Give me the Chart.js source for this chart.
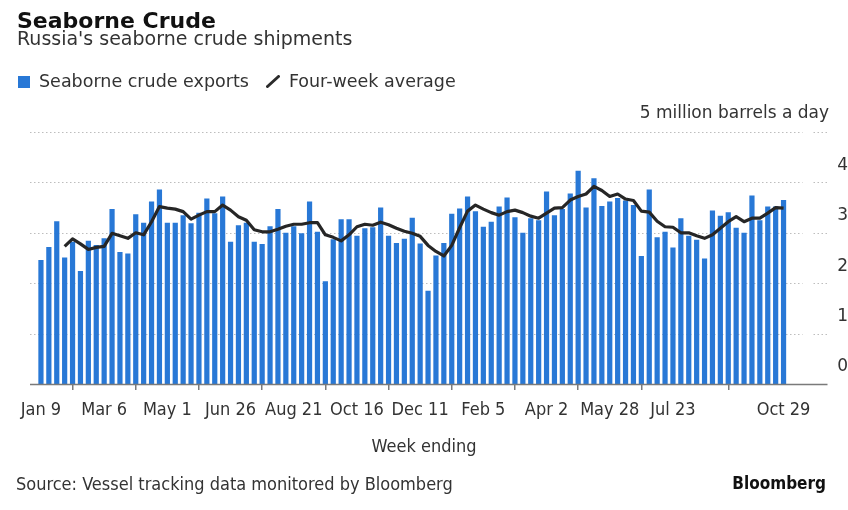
<!DOCTYPE html>
<html>
<head>
<meta charset="utf-8">
<script src="https://cdn.jsdelivr.net/npm/chart.js@4.4.0/dist/chart.umd.min.js"></script>
<style>
  html, body { margin: 0; padding: 0; background: #fff; }
  #wrap { position: relative; width: 848px; height: 510px; overflow: hidden; font-family: "DejaVu Sans", sans-serif; color: #333; }
  #chart { position: absolute; left: 0; top: 0; }
  .t { position: absolute; line-height: 1; white-space: nowrap; }
  #title { left: 17px; top: 10px; font-size: 22px; font-weight: bold; color: #111; }
  #subtitle { left: 17px; top: 29px; font-size: 19px; }
  #legend { left: 18px; top: 73px; font-size: 17.5px; }
  #legend .sw { display: inline-block; width: 12px; height: 12px; background: #2878d6; margin-right: 9px; vertical-align: -1px; }
  #legend svg { vertical-align: -1px; margin: 0 9px 0 17px; }
  #unit { right: 19px; top: 104px; font-size: 17px; }
  #xtitle { left: 0; width: 848px; text-align: center; top: 437px; font-size: 18px; font-family: "DejaVu Sans Condensed", "DejaVu Sans", sans-serif; font-stretch: condensed; }
  #source { left: 16px; top: 475px; font-size: 18px; font-family: "DejaVu Sans Condensed", "DejaVu Sans", sans-serif; font-stretch: condensed; }
  #brand { right: 22px; top: 475px; font-size: 17px; font-weight: bold; color: #111; font-family: "DejaVu Sans Condensed", "DejaVu Sans", sans-serif; font-stretch: condensed; }
</style>
</head>
<body>
<div id="wrap">
  <canvas id="chart" width="848" height="510"></canvas>
  <div class="t" id="title">Seaborne Crude</div>
  <div class="t" id="subtitle">Russia's seaborne crude shipments</div>
  <div class="t" id="legend"><span class="sw"></span>Seaborne crude exports<svg width="14" height="13" viewBox="0 0 14 13"><line x1="1.5" y1="11.5" x2="12.5" y2="1.5" stroke="#2b2b2b" stroke-width="3" stroke-linecap="round"/></svg>Four-week average</div>
  <div class="t" id="unit">5 million barrels a day</div>
  <div class="t" id="xtitle">Week ending</div>
  <div class="t" id="source">Source: Vessel tracking data monitored by Bloomberg</div>
  <div class="t" id="brand">Bloomberg</div>
</div>
<script>
// weeks ending Jan 9 2022 .. Oct 29 2023
const weeks = [
  'Jan 9', 'Jan 16', 'Jan 23', 'Jan 30', 'Feb 6', 'Feb 13', 'Feb 20', 'Feb 27',
  'Mar 6', 'Mar 13', 'Mar 20', 'Mar 27', 'Apr 3', 'Apr 10', 'Apr 17', 'Apr 24',
  'May 1', 'May 8', 'May 15', 'May 22', 'May 29', 'Jun 5', 'Jun 12', 'Jun 19',
  'Jun 26', 'Jul 3', 'Jul 10', 'Jul 17', 'Jul 24', 'Jul 31', 'Aug 7', 'Aug 14',
  'Aug 21', 'Aug 28', 'Sep 4', 'Sep 11', 'Sep 18', 'Sep 25', 'Oct 2', 'Oct 9',
  'Oct 16', 'Oct 23', 'Oct 30', 'Nov 6', 'Nov 13', 'Nov 20', 'Nov 27', 'Dec 4',
  'Dec 11', 'Dec 18', 'Dec 25', 'Jan 1', 'Jan 8', 'Jan 15', 'Jan 22', 'Jan 29',
  'Feb 5', 'Feb 12', 'Feb 19', 'Feb 26', 'Mar 5', 'Mar 12', 'Mar 19', 'Mar 26',
  'Apr 2', 'Apr 9', 'Apr 16', 'Apr 23', 'Apr 30', 'May 7', 'May 14', 'May 21',
  'May 28', 'Jun 4', 'Jun 11', 'Jun 18', 'Jun 25', 'Jul 2', 'Jul 9', 'Jul 16',
  'Jul 23', 'Jul 30', 'Aug 6', 'Aug 13', 'Aug 20', 'Aug 27', 'Sep 3', 'Sep 10',
  'Sep 17', 'Sep 24', 'Oct 1', 'Oct 8', 'Oct 15', 'Oct 22', 'Oct 29'
];

// million barrels a day
const exports = [
  2.46, 2.72, 3.23, 2.51, 2.82, 2.24, 2.84, 2.76, 2.89, 3.47, 2.62, 2.59,
  3.37, 3.20, 3.62, 3.86, 3.20, 3.20, 3.35, 3.19, 3.40, 3.68, 3.39, 3.72,
  2.82, 3.15, 3.20, 2.82, 2.78, 3.13, 3.47, 3.00, 3.13, 2.99, 3.62, 3.02,
  2.04, 2.87, 3.27, 3.27, 2.94, 3.09, 3.11, 3.50, 2.94, 2.80, 2.88, 3.30,
  2.79, 1.85, 2.55, 2.80, 3.38, 3.48, 3.72, 3.43, 3.12, 3.22, 3.52, 3.70,
  3.31, 3.00, 3.29, 3.25, 3.82, 3.35, 3.47, 3.78, 4.23, 3.50, 4.08, 3.53,
  3.62, 3.69, 3.64, 3.55, 2.54, 3.86, 2.91, 3.02, 2.71, 3.29, 2.94, 2.86,
  2.49, 3.44, 3.34, 3.41, 3.10, 3.00, 3.74, 3.25, 3.52, 3.52, 3.65
];

const avg4 = [
  null, null, null, 2.73, 2.88, 2.78, 2.67, 2.71, 2.73, 2.99, 2.94, 2.89,
  3.00, 2.96, 3.22, 3.52, 3.49, 3.47, 3.42, 3.27, 3.35, 3.42, 3.42, 3.55,
  3.45, 3.32, 3.25, 3.06, 3.02, 3.02, 3.07, 3.13, 3.17, 3.17, 3.20, 3.20,
  2.96, 2.91, 2.84, 2.96, 3.12, 3.17, 3.15, 3.21, 3.16, 3.09, 3.03, 2.99,
  2.93, 2.75, 2.63, 2.54, 2.75, 3.10, 3.43, 3.55, 3.47, 3.40, 3.35, 3.42,
  3.45, 3.40, 3.33, 3.29, 3.39, 3.49, 3.50, 3.65, 3.72, 3.77, 3.92, 3.84,
  3.72, 3.77, 3.67, 3.64, 3.43, 3.41, 3.23, 3.12, 3.11, 3.00, 3.00, 2.94,
  2.89, 2.96, 3.09, 3.22, 3.32, 3.22, 3.29, 3.29, 3.39, 3.50, 3.49
];

const xTickLabels = ['Jan 9', 'Mar 6', 'May 1', 'Jun 26', 'Aug 21', 'Oct 16',
  'Dec 11', 'Feb 5', 'Apr 2', 'May 28', 'Jul 23', 'Oct 29'];
const yTicks = [0, 1, 2, 3, 4, 5];

const condensed = '"DejaVu Sans Condensed", "DejaVu Sans", sans-serif';

// Bloomberg style: dotted grid that runs past the bars, solid baseline
const bbgGrid = {
  id: 'bbgGrid',
  beforeDatasetsDraw(chart) {
    const { ctx, chartArea } = chart;
    const y = chart.scales.y;
    ctx.save();
    ctx.strokeStyle = '#bdbdbd';
    ctx.lineWidth = 1;
    ctx.setLineDash([1.5, 2.5]);
    yTicks.forEach(v => {
      if (v === 0) return;
      const py = Math.round(y.getPixelForValue(v)) + 0.5;
      ctx.beginPath();
      ctx.moveTo(chartArea.left - 7, py);
      ctx.lineTo(chartArea.right + 15, py);
      ctx.moveTo(chartArea.right + 26, py);
      ctx.lineTo(chartArea.right + 41, py);
      ctx.stroke();
    });
    ctx.restore();
  },
  afterDatasetsDraw(chart) {
    const { ctx, chartArea } = chart;
    const py = Math.round(chart.scales.y.getPixelForValue(0)) + 0.5;
    ctx.save();
    ctx.strokeStyle = '#7a7a7a';
    ctx.lineWidth = 1.5;
    ctx.beginPath();
    ctx.moveTo(chartArea.left - 7, py);
    ctx.lineTo(chartArea.right + 40, py);
    ctx.stroke();
    ctx.restore();
  }
};

new Chart(document.getElementById('chart'), {
  data: {
    labels: weeks,
    datasets: [
      {
        type: 'line',
        label: 'Four-week average',
        data: avg4,
        borderColor: '#262626',
        borderWidth: 3.2,
        borderJoinStyle: 'round',
        pointRadius: 0,
        tension: 0,
        order: 0
      },
      {
        type: 'bar',
        label: 'Seaborne crude exports',
        data: exports,
        backgroundColor: '#2878d6',
        barPercentage: 0.66,
        categoryPercentage: 1,
        order: 1
      }
    ]
  },
  options: {
    responsive: false,
    animation: false,
    layout: { padding: { left: 37, top: 132, right: 0, bottom: 0 } },
    plugins: {
      legend: { display: false },
      tooltip: { enabled: false }
    },
    scales: {
      x: {
        offset: true,
        border: { display: false },
        grid: {
          display: true,
          drawOnChartArea: false,
          drawTicks: true,
          tickLength: 6,
          color: '#7a7a7a',
          lineWidth: 1.5
        },
        ticks: {
          autoSkip: false,
          maxRotation: 0,
          padding: 10,
          color: '#333',
          font: { family: condensed, size: 18 },
          callback: function (val) {
            const lab = this.getLabelForValue(val);
            return xTickLabels.includes(lab) ? lab : null;
          }
        },
        afterFit: s => { s.height = 126; }
      },
      y: {
        position: 'right',
        min: 0,
        max: 5,
        border: { display: false },
        grid: { display: false, drawTicks: false },
        ticks: {
          stepSize: 1,
          crossAlign: 'far',
          padding: 31,
          labelOffset: -17,
          color: '#333',
          font: { family: '"DejaVu Sans", sans-serif', size: 17 },
          callback: v => (v === 5 ? '' : v)
        },
        afterFit: s => { s.width = 60.5; }
      }
    }
  },
  plugins: [bbgGrid]
});
</script>
</body>
</html>
